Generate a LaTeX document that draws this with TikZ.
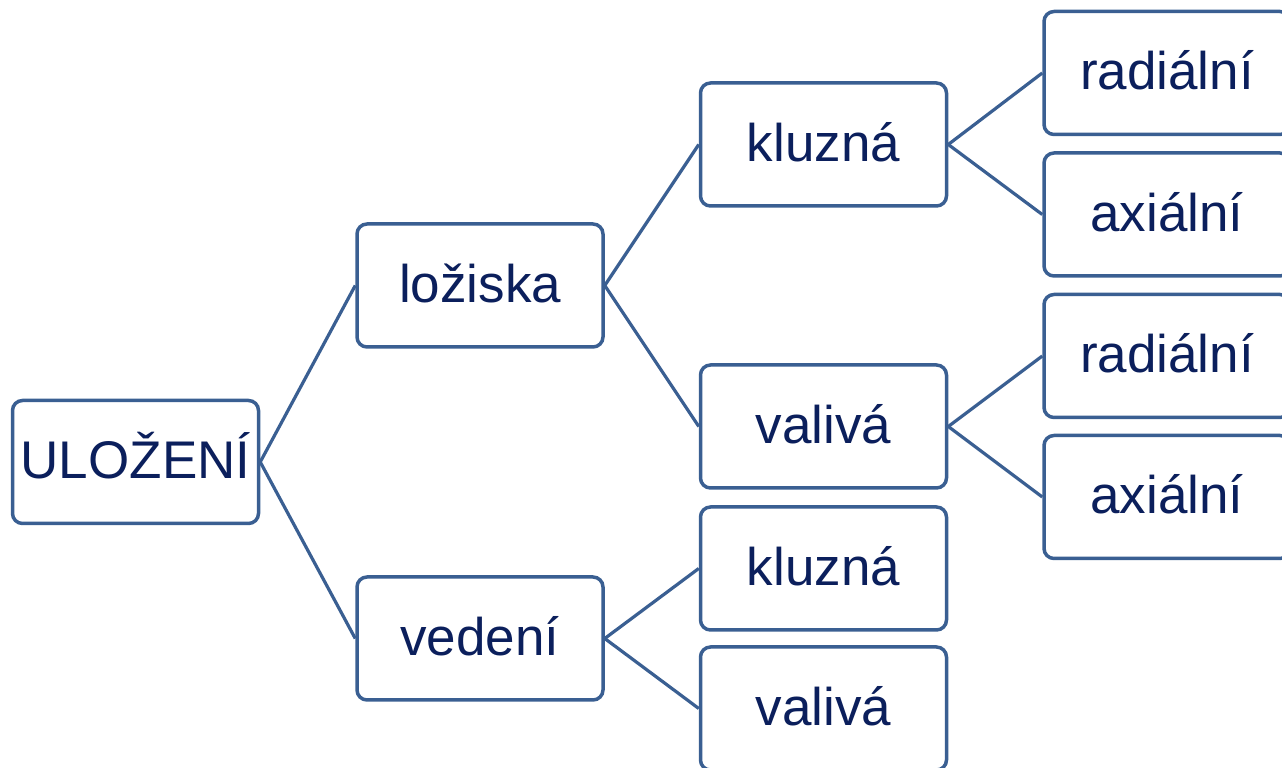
\documentclass[tikz,border=0pt]{standalone}
\usepackage{fontspec}
\setmainfont{Liberation Sans}
\definecolor{boxline}{HTML}{3A5F92}
\definecolor{boxtext}{HTML}{0B1F5C}
\begin{document}
\begin{tikzpicture}[x=1pt,y=1pt,
  treebox/.style={draw=boxline, line width=3.5pt, rounded corners=10pt, fill=white,
    minimum width=246pt, minimum height=123pt, inner sep=0pt,
    text height=39pt, text depth=5pt, text=boxtext,
    font=\fontsize{53pt}{60pt}\selectfont},
  link/.style={draw=boxline, line width=3.2pt}]
\useasboundingbox (0,0) rectangle (1282,768);
% level 0
\node[treebox] (ulo) at (135.5,306) {ULOŽENÍ};
% level 1
\node[treebox] (loz) at (480,482.5) {ložiska};
\node[treebox] (ved) at (480,129.5) {vedení};
% level 2
\node[treebox] (kl1) at (823.5,623.5) {kluzná};
\node[treebox] (va1) at (823.5,341.5) {valivá};
\node[treebox] (kl2) at (823.5,199.5) {kluzná};
\node[treebox] (va2) at (823.5,59.5) {valivá};
% level 3
\node[treebox] (ra1) at (1167,695) {radiální};
\node[treebox] (ax1) at (1167,553.5) {axiální};
\node[treebox] (ra2) at (1167,412) {radiální};
\node[treebox] (ax2) at (1167,271) {axiální};
% connectors between box sides
\draw[link] (ulo.east) -- (loz.west);
\draw[link] (ulo.east) -- (ved.west);
\draw[link] (loz.east) -- (kl1.west);
\draw[link] (loz.east) -- (va1.west);
\draw[link] (ved.east) -- (kl2.west);
\draw[link] (ved.east) -- (va2.west);
\draw[link] (kl1.east) -- (ra1.west);
\draw[link] (kl1.east) -- (ax1.west);
\draw[link] (va1.east) -- (ra2.west);
\draw[link] (va1.east) -- (ax2.west);
\end{tikzpicture}
\end{document}
